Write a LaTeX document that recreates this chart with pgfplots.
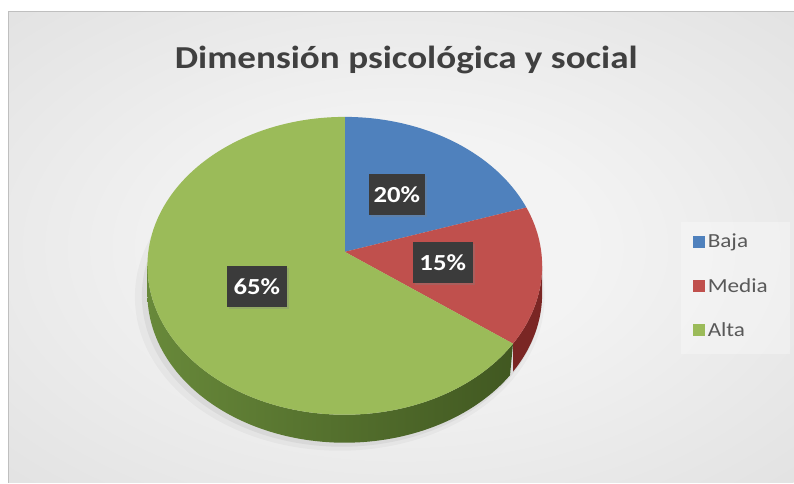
\documentclass[border=0pt]{standalone}
\usepackage{fontspec}
\setmainfont[FakeStretch=1.16]{Carlito}
\usepackage{pgfplots}
\pgfplotsset{compat=1.18}
\usetikzlibrary{shadows}
\definecolor{cBaja}{HTML}{4F81BD}
\definecolor{cMedia}{HTML}{C0504D}
\definecolor{cAlta}{HTML}{9BBB59}
\definecolor{sideL}{HTML}{68893A}
\definecolor{sideR}{HTML}{415821}
\definecolor{sideRed}{HTML}{7A2624}
\definecolor{titlegray}{HTML}{404040}
\definecolor{leggray}{HTML}{595959}
\definecolor{lblbg}{HTML}{3B3B3B}
\definecolor{bgin}{HTML}{F3F3F3}
\definecolor{bgout}{HTML}{C9C9C9}
\pgfdeclareradialshading{bgshade}{\pgfpoint{0bp}{0bp}}{color(0bp)=(bgin); color(12bp)=(bgin); color(72bp)=(bgout)}
% data (percent)
\def\vBaja{20}
\def\vMedia{15}
\def\vAlta{65}
% perspective projection of the pie's top face
\newcommand\PX[1]{345+196.6*cos(#1)/(1+0.0939*sin(#1))}
\newcommand\PY[1]{231+147.7*sin(#1)/(1+0.0939*sin(#1))}
% side band between angles #1 and #2 (s in [0,2]: top arc then bottom arc back)
\newcommand\SX[2]{\PX{(#1+(1-abs(1-\s))*(#2-#1))}}
\newcommand\SY[2]{\PY{(#1+(1-abs(1-\s))*(#2-#1))}-28*(\s>1.000001)}
\pgfmathsetmacro\aA{90}
\pgfmathsetmacro\aB{\aA-3.6*\vBaja}
\pgfmathsetmacro\aC{\aB-3.6*\vMedia}
\pgfmathsetmacro\aD{\aC-3.6*\vAlta}
\begin{document}
\begin{tikzpicture}
\begin{axis}[
  scale only axis, width=794pt, height=483pt,
  xmin=0, xmax=794, ymin=0, ymax=483,
  hide axis, clip=false,
  legend style={at={(axis cs:693,251)}, anchor=north west, draw=none, fill=none,
    font=\fontsize{20}{24}\selectfont, text=leggray, row sep=25pt, inner sep=0pt,
    nodes={inner xsep=3pt}},
  legend cell align=left,
  legend image code/.code={\fill[#1,draw=none] (0pt,-6pt) rectangle (12pt,6pt);},
]
% background
\fill[white] (axis cs:0,0) rectangle (axis cs:794,483);
\shade[shading=bgshade] (axis cs:9,0) rectangle (axis cs:794,471);
\draw[black!25, line width=1pt] (axis cs:9,0) -- (axis cs:9,471) -- (axis cs:794,471);
\fill[white, opacity=0.3] (axis cs:681,129) rectangle (axis cs:790,261);
% shadow
\fill[black, opacity=0.03] (axis cs:340,186) ellipse [x radius=205pt, y radius=154pt];
\fill[black, opacity=0.05] (axis cs:342,187) ellipse [x radius=200pt, y radius=151pt];
% sides
\addplot[left color=sideL, right color=sideR, draw=none, forget plot, domain=0:2, samples=181, variable=\s] ({\SX{-174.61}{\aC}},{\SY{-174.61}{\aC}}) -- cycle;
\addplot[fill=sideRed, draw=none, forget plot, domain=0:2, samples=61, variable=\s] ({\SX{\aC}{-5.39}},{\SY{\aC}{-5.39}}) -- cycle;
% top face
\addplot[fill=cBaja, draw=none, domain=\aB:\aA, samples=60, variable=\t] ({\PX{\t}},{\PY{\t}}) -- (axis cs:345,231) -- cycle;
\addlegendentry{Baja}
\addplot[fill=cMedia, draw=none, domain=\aC:\aB, samples=60, variable=\t] ({\PX{\t}},{\PY{\t}}) -- (axis cs:345,231) -- cycle;
\addlegendentry{Media}
\addplot[fill=cAlta, draw=none, domain=\aD:\aC, samples=180, variable=\t] ({\PX{\t}},{\PY{\t}}) -- (axis cs:345,231) -- cycle;
\addlegendentry{Alta}
% title
\node[anchor=base, font=\bfseries\fontsize{32}{38}\selectfont, text=titlegray] at (axis cs:406.5,414.7) {Dimensión psicológica y social};
% data labels
\tikzset{lbl/.style={fill=lblbg, text=white, font=\bfseries\fontsize{23}{28}\selectfont, minimum width=56pt, minimum height=41pt, inner sep=0pt, drop shadow={opacity=0.3, shadow xshift=2pt, shadow yshift=-2pt}}}
\node[lbl] at (axis cs:397,288) {20\%};
\node[lbl, minimum width=60pt] at (axis cs:443,220) {15\%};
\node[lbl, minimum width=60pt] at (axis cs:257,196) {65\%};
\end{axis}
\end{tikzpicture}
\end{document}
